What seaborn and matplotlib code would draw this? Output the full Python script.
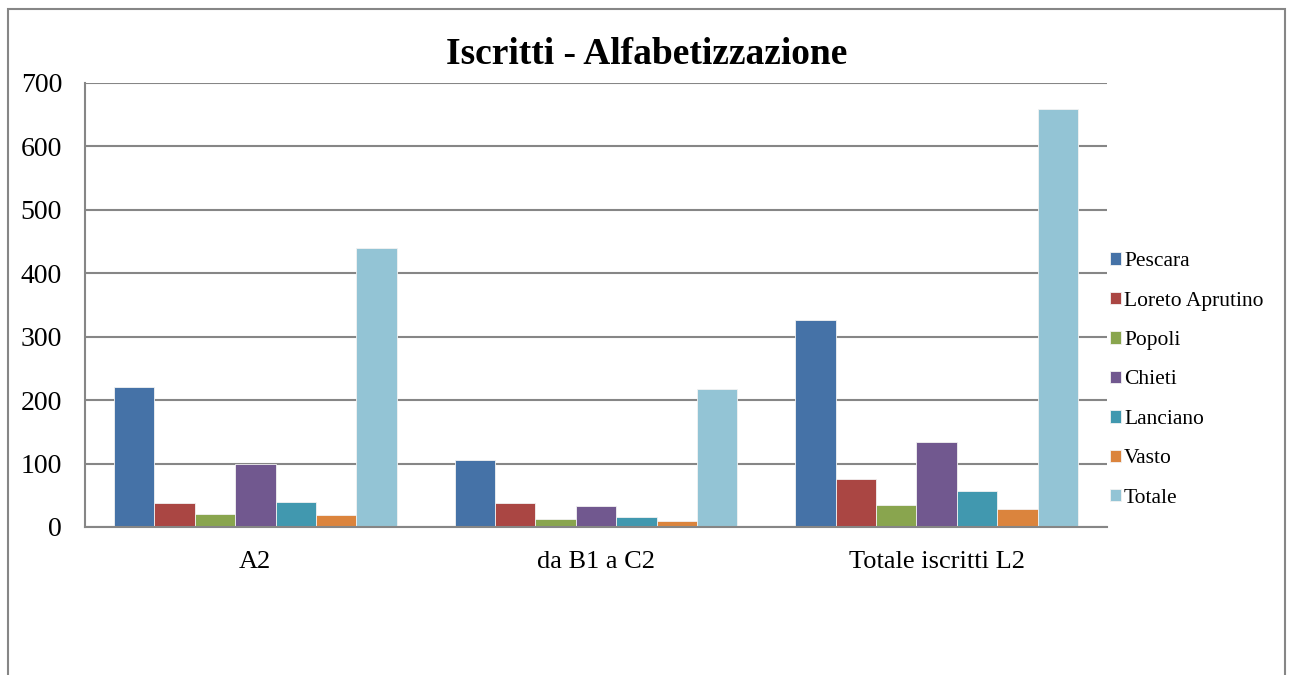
#importing libraries
import pandas as pd
import numpy as np
import matplotlib
matplotlib.use('Agg')
import matplotlib.pyplot as plt
import matplotlib.patches as patches
import seaborn as sns

#data
categorie = ['A2', 'da B1 a C2', 'Totale iscritti L2']
sedi = ['Pescara', 'Loreto Aprutino', 'Popoli', 'Chieti', 'Lanciano', 'Vasto', 'Totale']
pescara = [220, 106, 326]
loreto = [38, 38, 76]
popoli = [21, 12, 34]
chieti = [100, 33, 134]
lanciano = [39, 16, 57]
vasto = [19, 9, 29]
totale = [440, 218, 659]
colori = ['#4572A7', '#AA4643', '#89A54E', '#71588F', '#4198AF', '#DB843D', '#93C4D5']

valori = [pescara, loreto, popoli, chieti, lanciano, vasto, totale]
rows = []
for sede, vals in zip(sedi, valori):
    for cat, v in zip(categorie, vals):
        rows.append({'categoria': cat, 'sede': sede, 'iscritti': v})
df = pd.DataFrame(rows)

sns.set_style('white')
plt.rcParams['font.family'] = ['Liberation Serif', 'DejaVu Serif']
plt.rcParams['text.color'] = 'black'
plt.rcParams['xtick.color'] = 'black'
plt.rcParams['ytick.color'] = 'black'

fig = plt.figure(figsize=(12.89, 6.75), dpi=100)
ax = fig.add_axes([85/1289, 1-527/675, (1107-85)/1289, (527-83)/675])

sns.barplot(data=df, x='categoria', y='iscritti', hue='sede', order=categorie,
            hue_order=sedi, palette=colori, width=0.83, saturation=1,
            edgecolor='#f2f2f2', linewidth=0.6, ax=ax)

grey = '#868686'
ax.set_ylim(0, 700)
ax.set_xlim(-0.5, 2.5)
ax.set_yticks(np.arange(0, 701, 100))
ax.yaxis.grid(True, color=grey, linewidth=1.5)
ax.set_axisbelow(True)
ax.set_xlabel('')
ax.set_ylabel('')
for s in ['top', 'right']:
    ax.spines[s].set_visible(False)
for s in ['left', 'bottom']:
    ax.spines[s].set_color(grey)
    ax.spines[s].set_linewidth(1.5)
ax.tick_params(axis='y', length=5, width=1.2, color=grey, labelsize=20, pad=11.5)
ax.tick_params(axis='x', which='major', length=0, labelsize=19, pad=17)
ax.set_xticks([-0.5, 0.5, 1.5, 2.5], minor=True)
ax.tick_params(axis='x', which='minor', length=8, width=1.2, color=grey)

ax.legend(loc='center left', bbox_to_anchor=(1110/1289, 1-380/675),
          bbox_transform=fig.transFigure, frameon=False, fontsize=15.5,
          handlelength=0.51, handleheight=0.51, handletextpad=0.14,
          labelspacing=0.95, borderpad=0, borderaxespad=0)

fig.suptitle('Iscritti - Alfabetizzazione', x=647/1289, y=1-55/675, va='center',
             fontsize=27, fontweight='bold')

#outer border of the chart area
fig.add_artist(patches.Rectangle((8/1289, -0.1), (1285-8)/1289, 1.1-9/675,
                                 transform=fig.transFigure, fill=False,
                                 edgecolor=grey, linewidth=1.5))

plt.savefig('out.png', dpi=100)
